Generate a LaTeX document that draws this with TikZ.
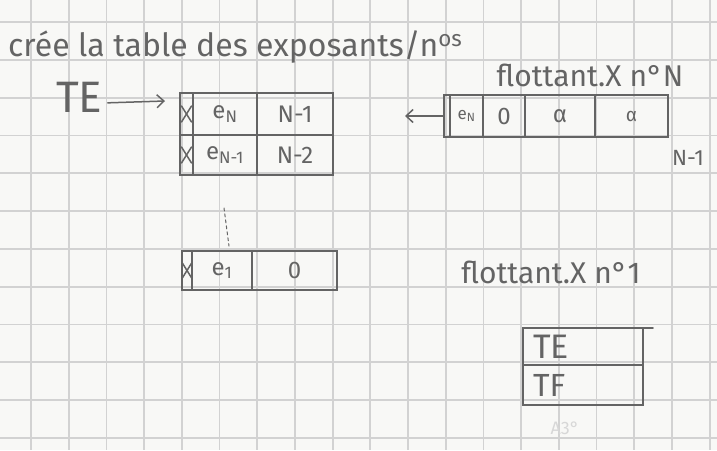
\documentclass[tikz,border=0pt]{standalone}
\usepackage{fontspec}
\setmainfont{Fira Sans}
\usetikzlibrary{arrows.meta}

\definecolor{paper}{RGB}{248,248,246}
\definecolor{gridline}{RGB}{210,210,210}
\definecolor{ink}{RGB}{100,100,100}
\definecolor{faint}{RGB}{215,215,215}

\tikzset{
  cell/.style={draw=ink, line width=1.5pt, anchor=north west, inner sep=0pt,
               outer sep=0pt, text=ink, font=\fontsize{24}{24}\selectfont},
  pen/.style={draw=ink, line width=1.5pt, line cap=round},
  tag/.style={text=ink, inner sep=0pt},
  barb/.style={-{Straight Barb[length=7pt,width=13pt]}},
  gridstroke/.style={draw=gridline, line width=1.8pt}
}

\newcommand{\crossmark}[1]{%
  \draw[pen] ([shift={(-5,-8)}]#1.center) -- ([shift={(5,8)}]#1.center);
  \draw[pen] ([shift={(5,-8)}]#1.center) -- ([shift={(-5,8)}]#1.center);}

\begin{document}
\begin{tikzpicture}[x=1pt,y=-1pt]
  % squared paper
  \fill[paper] (0,0) rectangle (717,450);
  \useasboundingbox (0,0) rectangle (717,450);
  \foreach \k in {0,...,18}
    \draw[gridstroke] ({31+37.7*\k},0) -- ({31+37.7*\k},450);
  \foreach \k in {0,...,11}
    \draw[gridstroke] (0,{22+37.8*\k}) -- (717,{22+37.8*\k});

  % heading
  \node[tag, font=\fontsize{32}{32}\selectfont, anchor=base west] (title) at (8,56)
    {crée la table des exposants/n\textsuperscript{os}};

  % table of exponents
  \node[tag, font=\fontsize{44}{44}\selectfont, anchor=base west] (te) at (56,112) {TE};

  \node[cell, minimum width=13, minimum height=42] (ax1) at (180,93) {};
  \node[cell, minimum width=64, minimum height=42] (ae1) at (193,93) {e\textsubscript{N}};
  \node[cell, minimum width=76, minimum height=42] (an1) at (257,93) {N-1};
  \node[cell, minimum width=13, minimum height=40] (ax2) at (180,135) {};
  \node[cell, minimum width=64, minimum height=40] (ae2) at (193,135) {e\textsubscript{N-1}};
  \node[cell, minimum width=76, minimum height=40] (an2) at (257,135) {N-2};
  \crossmark{ax1}
  \crossmark{ax2}

  \coordinate (tetip) at (165,101);
  \draw[pen, barb] ([xshift=5pt, yshift=-6pt]te.east) -- (tetip);

  % elided rows
  \coordinate (gaptop) at (224,208);
  \coordinate (gapbot) at (229,246);
  \draw[pen, line width=1pt, dashed] (gaptop) -- (gapbot);

  \node[cell, minimum width=10, minimum height=39] (cx1) at (182,251) {};
  \node[cell, minimum width=60, minimum height=39] (ce1) at (192,251) {e\textsubscript{1}};
  \node[cell, minimum width=85, minimum height=39] (cz1) at (252,251) {0};
  \crossmark{cx1}

  % float number N
  \node[tag, font=\fontsize{30}{30}\selectfont] (fnN) at (590,75) {flottant.X n°N};
  \node[cell, minimum width=6,  minimum height=42] (bx)  at (444,95) {};
  \node[cell, minimum width=33, minimum height=42, font=\fontsize{17}{17}\selectfont] (be)  at (450,95) {e\textsubscript{N}};
  \node[cell, minimum width=42, minimum height=42] (bz)  at (483,95) {0};
  \node[cell, minimum width=70, minimum height=42] (ba1) at (525,95) {α};
  \node[cell, minimum width=73, minimum height=42, font=\fontsize{19}{19}\selectfont] (ba2) at (595,95) {α};
  \coordinate (bout) at (405,116);
  \draw[pen, barb] (bx.west) -- (bout);
  \node[tag, font=\fontsize{22}{22}\selectfont] (nm1) at (688,158) {N-1};

  % float number 1
  \node[tag, font=\fontsize{30}{30}\selectfont] (fn1) at (551,272) {flottant.X n°1};

  \node[cell, minimum width=110, minimum height=37, text width=100, align=left,
        inner xsep=10pt, font=\fontsize{34}{34}\selectfont] (ste) at (523,328) {TE};
  \node[cell, minimum width=110, minimum height=40, text width=100, align=left,
        inner xsep=10pt, font=\fontsize{32}{32}\selectfont] (stf) at (523,365) {TF};
  \draw[pen] (ste.north east) -- ++(10,0);
  \node[text=faint, inner sep=0pt, font=\fontsize{18}{18}\selectfont] (a3) at (565,428) {A3°};
\end{tikzpicture}
\end{document}
